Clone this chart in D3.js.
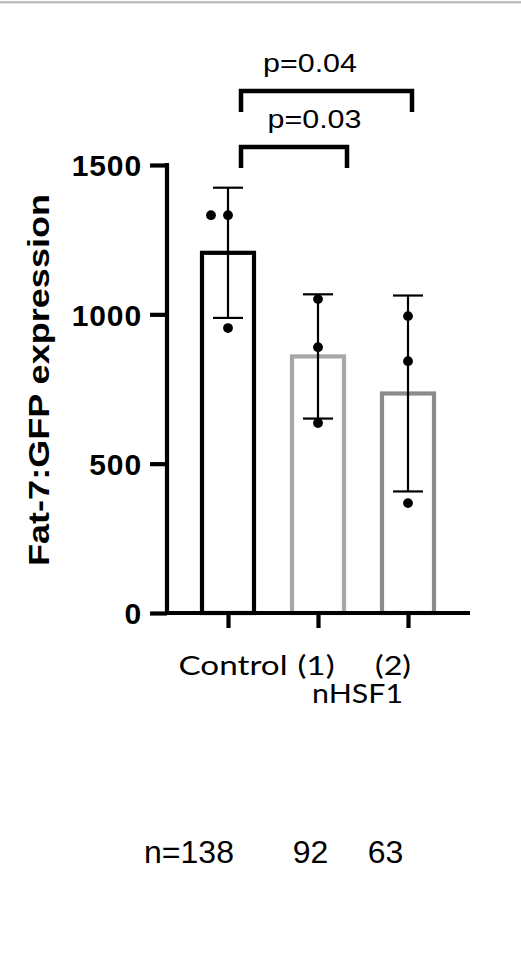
<!DOCTYPE html>
<html>
<head>
<meta charset="utf-8">
<script src="https://cdn.jsdelivr.net/npm/d3@7/dist/d3.min.js"></script>
<style>
  html, body { margin: 0; padding: 0; background: #fff; }
  svg { display: block; }
</style>
</head>
<body>
<svg id="chart" width="521" height="958"></svg>
<script>
// ---- data ----
const categories = ["Control", "(1)", "(2)"];
const means = [1206, 859, 735];
const sds = [218, 208, 328];
const points = [
  [1332, 1332, 954],
  [1051, 890, 636],
  [994, 843, 368]
];
const yTicks = [0, 500, 1000, 1500];
const nLabels = ["n=138", "92", "63"];
const pValues = ["p=0.04", "p=0.03"];
const comparisons = [["Control", "(2)"], ["Control", "(1)"]];
const groupLabel = "nHSF1";
const yTitle = "Fat-7:GFP expression";
const barColors = ["#000000", "#a7a7a9", "#8b8b8b"];

// ---- drawing ----
const svg = d3.select("#chart");

// top grey band
svg.append("rect").attr("x", 0).attr("y", 1).attr("width", 521).attr("height", 2.5).attr("fill", "#c0c0c0");

const x = d3.scalePoint().domain(categories).range([228, 408]);
const y = d3.scaleLinear().domain([0, 1500]).range([613, 165]);
const barW = 52;

// bars
svg.append("g").selectAll("rect").data(categories).join("rect")
  .attr("x", d => x(d) - barW / 2)
  .attr("y", (d, i) => y(means[i]))
  .attr("width", barW)
  .attr("height", (d, i) => y(0) - y(means[i]))
  .attr("fill", "none")
  .attr("stroke", (d, i) => barColors[i])
  .attr("stroke-width", 4.2);

// error bars
const capW = 30;
const eb = svg.append("g").attr("stroke", "#000").attr("stroke-width", 2.2);
categories.forEach((c, i) => {
  const hi = y(means[i] + sds[i]), lo = y(means[i] - sds[i]);
  eb.append("line").attr("x1", x(c)).attr("x2", x(c)).attr("y1", hi).attr("y2", lo);
  eb.append("line").attr("x1", x(c) - capW / 2).attr("x2", x(c) + capW / 2).attr("y1", hi).attr("y2", hi);
  eb.append("line").attr("x1", x(c) - capW / 2).attr("x2", x(c) + capW / 2).attr("y1", lo).attr("y2", lo);
});

// points (duplicates spread sideways)
const dots = svg.append("g").attr("fill", "#000");
categories.forEach((c, i) => {
  points[i].forEach((v, j) => {
    const dupBefore = points[i].slice(j + 1).filter(w => w === v).length;
    dots.append("circle").attr("cx", x(c) - dupBefore * 17).attr("cy", y(v)).attr("r", 4.9);
  });
});

// y axis
const yAxis = svg.append("g").attr("transform", "translate(167,0)")
  .call(d3.axisLeft(y).tickValues(yTicks).tickSize(17).tickPadding(8).tickFormat(d3.format("d")));
yAxis.select(".domain").attr("stroke", "#000").attr("stroke-width", 4.2).attr("d", `M0,${y(1500) - 2}V${y(0)}`);
yAxis.selectAll(".tick line").attr("stroke", "#000").attr("stroke-width", 4.2);
yAxis.selectAll(".tick text")
  .attr("fill", "#000")
  .attr("dy", "0.36em")
  .style("font-family", "'Liberation Sans', Arial, sans-serif")
  .style("font-weight", "bold")
  .style("font-size", "30px")
  .style("letter-spacing", "0.9px");

// x axis
const xAxis = svg.append("g").attr("transform", `translate(0,${y(0)})`)
  .call(d3.axisBottom(x).tickSize(15).tickFormat(""));
xAxis.select(".domain").attr("stroke", "#000").attr("stroke-width", 4.2).attr("d", "M165,0H470");
xAxis.selectAll(".tick line").attr("stroke", "#000").attr("stroke-width", 4.2);

// x labels
const labFont = "Lato, 'Open Sans', sans-serif";
const labOffsets = [5, -2, -15];
const labWidths = [109, 37, 36];
categories.forEach((c, i) => {
  svg.append("text").attr("x", x(c) + labOffsets[i]).attr("y", 675)
    .attr("text-anchor", "middle")
    .attr("textLength", labWidths[i]).attr("lengthAdjust", "spacingAndGlyphs")
    .style("font-family", labFont).style("font-size", "27.5px").attr("fill", "#000")
    .text(c);
});
svg.append("text").attr("x", (x("(1)") + x("(2)")) / 2 - 5.5).attr("y", 703)
  .attr("text-anchor", "middle")
  .attr("textLength", 91).attr("lengthAdjust", "spacingAndGlyphs")
  .style("font-family", labFont).style("font-size", "27.5px").attr("fill", "#000")
  .text(groupLabel);

// y title
svg.append("text")
  .attr("transform", `translate(49,380) rotate(-90)`)
  .attr("text-anchor", "middle")
  .attr("textLength", 372).attr("lengthAdjust", "spacingAndGlyphs")
  .style("font-family", "'Liberation Sans', Arial, sans-serif")
  .style("font-weight", "bold").style("font-size", "29px").attr("fill", "#000")
  .text(yTitle);

// significance brackets
const brTops = [91, 147];
const brLegs = [112, 168];
const brRightOff = [4, 29];
const brG = svg.append("g").attr("fill", "none").attr("stroke", "#000").attr("stroke-width", 4.5);
comparisons.forEach((cmp, i) => {
  const x1 = x(cmp[0]) + 13, x2 = x(cmp[1]) + brRightOff[i];
  brG.append("path").attr("d", `M${x1},${brLegs[i]}V${brTops[i]}H${x2}V${brLegs[i]}`);
  svg.append("text").attr("x", (x1 + x2) / 2 + (i === 0 ? -16.5 : 20.5)).attr("y", brTops[i] - 19)
    .attr("text-anchor", "middle")
    .attr("textLength", 94).attr("lengthAdjust", "spacingAndGlyphs")
    .style("font-family", "'Liberation Sans', Arial, sans-serif")
    .style("font-size", "25px").attr("fill", "#000")
    .text(pValues[i]);
});

// n labels
const nOffsets = [-39, -7.5, -22.5];
categories.forEach((c, i) => {
  svg.append("text").attr("x", x(c) + nOffsets[i]).attr("y", 863)
    .attr("text-anchor", "middle")
    .style("font-family", "'Liberation Sans', Arial, sans-serif")
    .style("font-size", "32px").attr("fill", "#000")
    .text(nLabels[i]);
});
</script>
</body>
</html>
